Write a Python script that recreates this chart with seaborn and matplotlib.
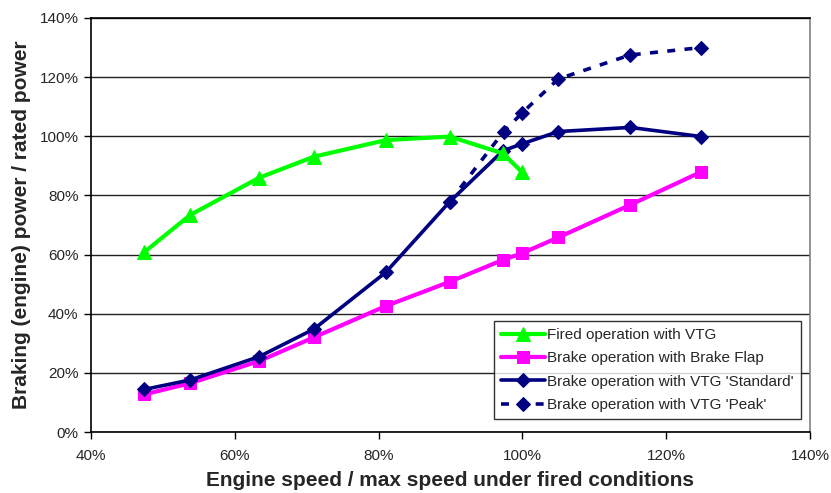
import numpy as np
import pandas as pd
import matplotlib
matplotlib.use("Agg")
import matplotlib.pyplot as plt
from matplotlib.ticker import PercentFormatter, MultipleLocator
import seaborn as sns

# values (percent)
speed = [47.4, 53.8, 63.4, 71.0, 81.0, 89.9, 97.3, 99.9, 105.0, 115.0, 124.9]
fired_speed = speed[:8]
fired_vtg = [60.8, 73.4, 86.0, 93.1, 98.7, 99.9, 94.2, 88.0]
brake_flap = [12.7, 16.5, 24.0, 32.0, 42.6, 50.8, 58.2, 60.4, 65.8, 76.8, 88.0]
vtg_standard = [14.4, 17.6, 25.5, 34.8, 54.0, 77.9, 95.1, 97.4, 101.6, 103.0, 99.9]
peak_speed = [89.9, 97.4, 100.0, 105.0, 115.0, 124.9]
vtg_peak = [77.9, 101.6, 108.0, 119.4, 127.5, 130.0]

labels = ["Fired operation with VTG",
          "Brake operation with Brake Flap",
          "Brake operation with VTG 'Standard'",
          "Brake operation with VTG 'Peak'"]

sns.set_style("white")
plt.rcParams['font.family'] = ['Liberation Sans', 'DejaVu Sans']

fig = plt.figure(figsize=(8.31, 4.93), dpi=100)
ax = fig.add_axes([0.1095, 0.1237, 0.8652, 0.8398])

navy = "#000080"
sns.lineplot(ax=ax, x=peak_speed, y=vtg_peak, color=navy, linewidth=2.6,
             marker="D", markersize=7, markeredgecolor=navy, label=labels[3],
             linestyle=(0, (2.2, 2.6)), zorder=3)
sns.lineplot(ax=ax, x=speed, y=vtg_standard, color=navy, linewidth=2.6,
             marker="D", markersize=7, markeredgecolor=navy, label=labels[2], zorder=4)
sns.lineplot(ax=ax, x=speed, y=brake_flap, color="#FF00FF", linewidth=3,
             marker="s", markersize=9, markeredgecolor="#FF00FF", label=labels[1], zorder=2)
sns.lineplot(ax=ax, x=fired_speed, y=fired_vtg, color="#00FF00", linewidth=3,
             marker="^", markersize=10, markeredgecolor="#00FF00", label=labels[0], zorder=5)

ax.set_xlim(40, 140)
ax.set_ylim(0, 140)
ax.xaxis.set_major_locator(MultipleLocator(20))
ax.yaxis.set_major_locator(MultipleLocator(20))
ax.xaxis.set_major_formatter(PercentFormatter(decimals=0))
ax.yaxis.set_major_formatter(PercentFormatter(decimals=0))
ax.tick_params(axis='both', direction='out', length=5, width=1, color='black',
               labelsize=11, bottom=True, left=True)
ax.tick_params(axis='x', pad=7)
ax.tick_params(axis='y', pad=4)
ax.yaxis.grid(True, color='#222222', linewidth=1)
ax.xaxis.grid(False)
ax.set_axisbelow(True)

for side in ['left', 'bottom', 'top']:
    ax.spines[side].set_color('black')
    ax.spines[side].set_linewidth(1.2)
ax.spines['right'].set_color('#808080')
ax.spines['right'].set_linewidth(1.2)

ax.set_xlabel("Engine speed / max speed under fired conditions",
              fontsize=15, fontweight='bold', labelpad=6)
ax.set_ylabel("Braking (engine) power / rated power",
              fontsize=15, fontweight='bold', labelpad=6)

handles, lbls = ax.get_legend_handles_labels()
order = [lbls.index(l) for l in labels]
leg = ax.legend([handles[i] for i in order], [lbls[i] for i in order],
                loc='lower right', bbox_to_anchor=(0.987, 0.031),
                fontsize=11, frameon=True, fancybox=False, handlelength=2.9,
                handletextpad=0.15, borderpad=0.45, labelspacing=0.62,
                borderaxespad=0)
leg.get_frame().set_edgecolor('black')
leg.get_frame().set_linewidth(1)

fig.savefig("out.png", dpi=100)
